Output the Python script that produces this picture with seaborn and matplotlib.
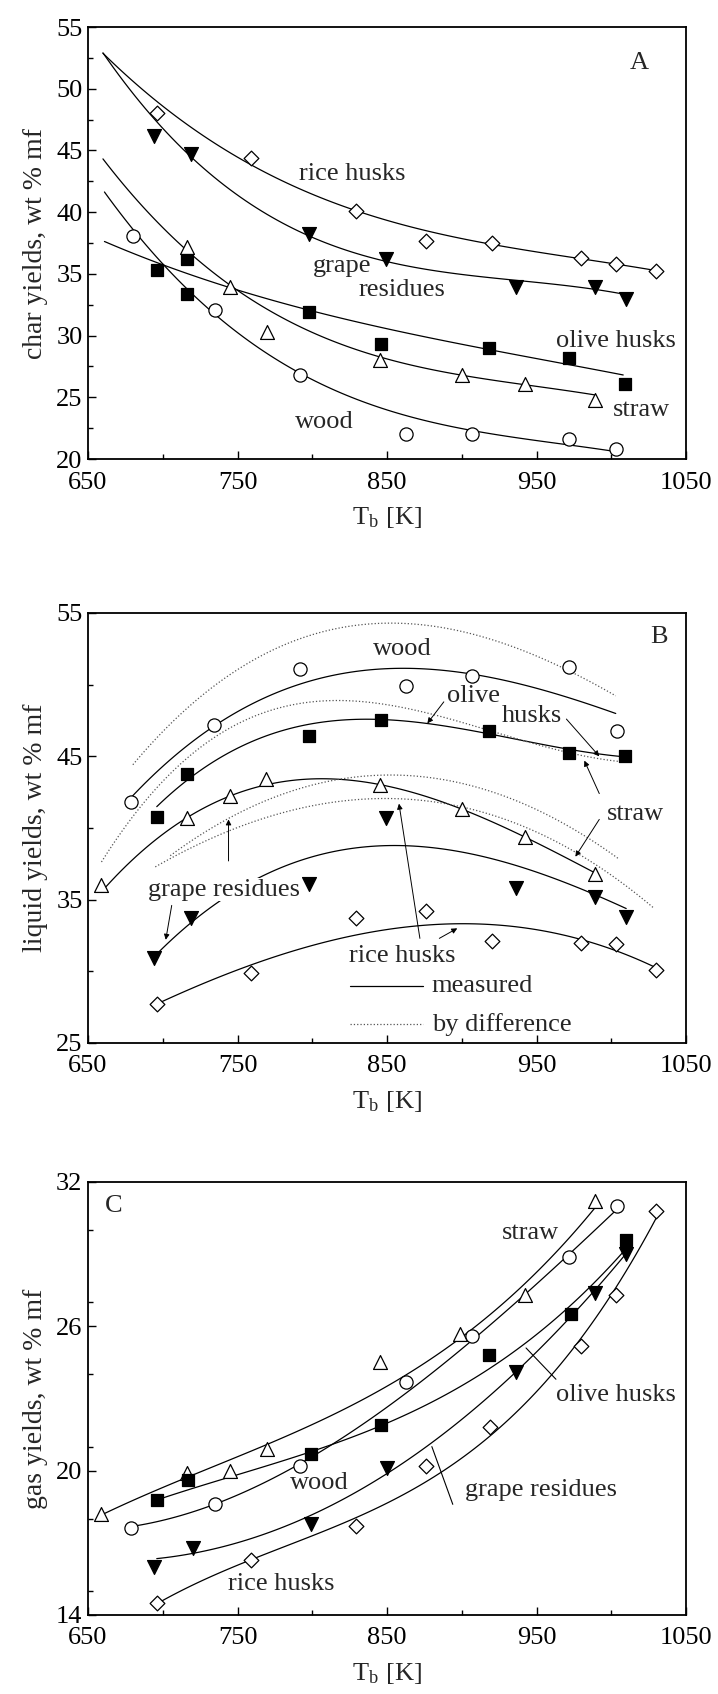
import numpy as np
import matplotlib
matplotlib.use("Agg")
import matplotlib.pyplot as plt
from matplotlib.ticker import MultipleLocator, FixedLocator
import seaborn as sns

# ---------------- DATA ----------------
T_ticks = [650, 750, 850, 950, 1050]
char_ticks = [20, 25, 30, 35, 40, 45, 50, 55]
liq_ticks = [25, 35, 45, 55]
gas_ticks = [14, 20, 26, 32]

# Panel A: char yields (markers)
char_rice_T = [696, 759, 829, 876, 920, 980, 1003, 1030]
char_rice = [48.0, 44.4, 40.1, 37.7, 37.5, 36.3, 35.8, 35.2]
char_grape_T = [694, 719, 798, 849, 936, 989, 1010]
char_grape = [46.2, 44.7, 38.2, 36.2, 33.9, 33.9, 33.0]
char_olive_T = [696, 716, 716, 798, 846, 918, 972, 1009]
char_olive = [35.3, 36.2, 33.4, 31.9, 29.3, 29.0, 28.2, 26.1]
char_straw_T = [716, 745, 770, 845, 900, 942, 989]
char_straw = [37.2, 33.9, 30.3, 28.0, 26.8, 26.1, 24.8]
char_wood_T = [680, 735, 792, 863, 907, 972, 1003]
char_wood = [38.1, 32.1, 26.8, 22.0, 22.0, 21.6, 20.8]
# Panel A: fitted curves
char_rice_fit_T = [660, 696, 759, 829, 876, 920, 980, 1030]
char_rice_fit = [53.3, 48.1, 44.4, 40.2, 38.3, 37.4, 36.2, 35.3]
char_grape_fit_T = [660, 694, 719, 798, 849, 936, 989, 1010]
char_grape_fit = [53.3, 46.8, 44.7, 38.3, 36.1, 34.3, 33.6, 33.5]
char_olive_fit_T = [661, 716, 798, 918, 1008]
char_olive_fit = [37.6, 35.1, 32.0, 28.9, 26.8]
char_straw_fit_T = [660, 716, 745, 845, 900, 942, 989]
char_straw_fit = [44.3, 37.0, 34.0, 28.3, 26.8, 26.0, 25.2]
char_wood_fit_T = [661, 680, 735, 792, 851, 907, 972, 1002]
char_wood_fit = [41.9, 38.2, 31.9, 26.9, 24.0, 22.2, 21.2, 20.6]

# Panel B: liquid yields (markers)
liq_wood_T = [679, 734, 792, 863, 907, 972, 1004]
liq_wood = [41.8, 47.2, 51.1, 49.9, 50.6, 51.2, 46.8]
liq_olive_T = [696, 716, 798, 846, 918, 972, 1009]
liq_olive = [40.8, 43.8, 46.4, 47.5, 46.8, 45.2, 45.0]
liq_straw_T = [659, 716, 745, 769, 845, 900, 942, 989]
liq_straw = [36.0, 40.7, 42.2, 43.4, 43.0, 41.3, 39.4, 36.8]
liq_grape_T = [694, 719, 798, 849, 936, 989, 1010]
liq_grape = [30.9, 33.7, 36.1, 40.7, 35.8, 35.2, 33.8]
liq_rice_T = [696, 759, 829, 876, 920, 980, 1003, 1030]
liq_rice = [27.7, 29.9, 33.7, 34.2, 32.1, 32.0, 31.9, 30.1]
# Panel B: measured curves
liq_wood_fit_T = [678, 735, 795, 851, 907, 961, 1003]
liq_wood_fit = [42.0, 47.3, 49.9, 51.3, 50.7, 49.4, 48.0]
liq_olive_fit_T = [696, 717, 762, 806, 849, 916, 972, 1010]
liq_olive_fit = [41.2, 43.8, 46.2, 47.1, 47.5, 46.9, 45.3, 45.0]
liq_straw_fit_T = [659, 695, 715, 746, 770, 806, 849, 900, 943, 990]
liq_straw_fit = [35.8, 38.7, 40.6, 42.3, 43.3, 43.5, 42.9, 41.3, 39.2, 36.9]
liq_grape_fit_T = [697, 731, 778, 806, 851, 883, 927, 965, 988, 1010]
liq_grape_fit = [31.3, 34.4, 37.1, 38.3, 38.7, 38.6, 37.6, 36.4, 35.5, 34.3]
liq_rice_fit_T = [697, 757, 828, 851, 894, 939, 979, 1003, 1030]
liq_rice_fit = [27.8, 30.3, 32.4, 33.1, 33.4, 33.0, 32.0, 31.7, 30.2]
# Panel B: "by difference" curves
liq_wood_diff_T = [680, 739, 795, 851, 878, 916, 961, 1003]
liq_wood_diff = [44.3, 50.6, 53.1, 54.2, 54.1, 53.3, 51.7, 49.1]
liq_straw_diff_T = [659, 696, 717, 739, 784, 828, 878, 923, 965, 1005]
liq_straw_diff = [37.7, 42.3, 45.2, 47.1, 48.3, 48.7, 48.0, 46.6, 45.7, 44.5]
liq_grape_diff_T = [705, 744, 806, 850, 894, 938, 972, 1005]
liq_grape_diff = [38.0, 40.8, 43.1, 43.7, 43.1, 42.0, 40.1, 37.8]
liq_rice_diff_T = [695, 739, 784, 851, 883, 938, 976, 1028]
liq_rice_diff = [37.1, 40.0, 41.0, 41.9, 41.7, 40.5, 38.3, 34.4]

# Panel C: gas yields (markers)
gas_straw_T = [659, 716, 745, 770, 845, 899, 942, 989]
gas_straw = [18.2, 19.9, 20.0, 20.9, 24.5, 25.7, 27.3, 31.2]
gas_wood_T = [679, 735, 792, 863, 907, 972, 1004]
gas_wood = [17.6, 18.6, 20.2, 23.7, 25.6, 28.9, 31.0]
gas_olive_T = [696, 717, 799, 846, 918, 973, 1010]
gas_olive = [18.8, 19.6, 20.7, 21.9, 24.8, 26.5, 29.6]
gas_grape_T = [694, 720, 799, 850, 936, 989, 1010]
gas_grape = [16.0, 16.8, 17.8, 20.1, 24.1, 27.4, 29.0]
gas_rice_T = [696, 759, 829, 876, 919, 980, 1003, 1030]
gas_rice = [14.5, 16.3, 17.7, 20.2, 21.8, 25.2, 27.3, 30.8]
# Panel C: fitted curves
gas_straw_fit_T = [659, 716, 770, 845, 897, 942, 989]
gas_straw_fit = [18.2, 19.7, 20.9, 23.6, 25.6, 27.3, 31.1]
gas_wood_fit_T = [679, 735, 792, 836, 863, 907, 972, 1004]
gas_wood_fit = [17.7, 18.6, 20.2, 21.95, 23.5, 25.4, 28.8, 31.0]
gas_olive_fit_T = [696, 799, 847, 918, 973, 1010]
gas_olive_fit = [18.8, 20.7, 21.9, 24.5, 26.5, 29.4]
gas_grape_fit_T = [696, 720, 799, 850, 936, 989, 1010]
gas_grape_fit = [16.3, 16.65, 18.0, 20.0, 24.1, 27.4, 29.1]
gas_rice_fit_T = [696, 759, 829, 876, 919, 980, 1003, 1030]
gas_rice_fit = [14.5, 16.3, 17.7, 19.8, 21.8, 25.2, 27.3, 30.8]

# ---------------- STYLE ----------------
sns.set_theme(style="ticks")
plt.rcParams["font.family"] = ["Liberation Serif", "DejaVu Serif"]
plt.rcParams["mathtext.fontset"] = "stix"
plt.rcParams["axes.edgecolor"] = "black"
plt.rcParams["axes.linewidth"] = 1.3

FS = 19
fig = plt.figure(figsize=(7.18, 16.94), dpi=100)
fig.patch.set_facecolor("white")

left, width = 88 / 718, 598 / 718
axA = fig.add_axes([left, 0.72904, width, 0.25502])
axB = fig.add_axes([left, 0.38430, width, 0.25384])
axC = fig.add_axes([left, 0.04664, width, 0.25561])

MK = {"rice": ("D", False, 7.5), "grape": ("v", True, 10),
      "olive": ("s", True, 8.5), "straw": ("^", False, 10),
      "wood": ("o", False, 9.5)}


def markers(ax, T, y, kind):
    m, filled, ms = MK[kind]
    sns.scatterplot(x=T, y=y, ax=ax, marker=m, s=ms ** 2,
                    color="black" if filled else "white",
                    edgecolor="black", linewidth=0.9, zorder=4, legend=False)


def curve(ax, T, y, ls="-", order=3, lw=0.9, color="black"):
    sns.regplot(x=np.asarray(T, float), y=np.asarray(y, float), ax=ax,
                order=order, scatter=False, ci=None, truncate=True,
                color=color, line_kws=dict(lw=lw, ls=ls, zorder=2))


def style(ax, ylim, yticks, ymin, ylabel):
    ax.set_xlim(650, 1050)
    ax.set_ylim(*ylim)
    ax.xaxis.set_major_locator(FixedLocator(T_ticks))
    ax.xaxis.set_minor_locator(MultipleLocator(50))
    ax.yaxis.set_major_locator(FixedLocator(yticks))
    ax.yaxis.set_minor_locator(MultipleLocator(ymin))
    ax.tick_params(which="both", direction="in", top=False, right=False,
                   labelsize=FS, colors="black", width=1.0)
    ax.tick_params(which="major", length=6)
    ax.tick_params(axis="x", which="major", pad=9)
    ax.tick_params(axis="y", which="major", pad=4)
    ax.tick_params(which="minor", length=3.5)
    for s in ax.spines.values():
        s.set_visible(True)
        s.set_color("black")
    ax.set_xlabel(r"T$_\mathregular{b}$ [K]", fontsize=FS, labelpad=8)
    ax.set_ylabel(ylabel, fontsize=FS + 1, labelpad=6)
    ax.set_facecolor("white")


# ---------------- PANEL A ----------------
curve(axA, char_rice_fit_T, char_rice_fit)
curve(axA, char_grape_fit_T, char_grape_fit)
curve(axA, char_olive_fit_T, char_olive_fit)
curve(axA, char_straw_fit_T, char_straw_fit)
curve(axA, char_wood_fit_T, char_wood_fit)
markers(axA, char_rice_T, char_rice, "rice")
markers(axA, char_grape_T, char_grape, "grape")
markers(axA, char_olive_T, char_olive, "olive")
markers(axA, char_straw_T, char_straw, "straw")
markers(axA, char_wood_T, char_wood, "wood")
style(axA, (20, 55), char_ticks, 2.5, "char yields, wt % mf")
tA = dict(fontsize=FS, ha="center", va="center")
axA.text(1019, 52.1, "A", **tA)
axA.text(827, 43.1, "rice husks", **tA)
axA.text(820, 35.6, "grape", **tA)
axA.text(860, 33.7, "residues", **tA)
axA.text(1003, 29.6, "olive husks", **tA)
axA.text(1020, 24.0, "straw", **tA)
axA.text(808, 23.0, "wood", **tA)

# ---------------- PANEL B ----------------
curve(axB, liq_wood_fit_T, liq_wood_fit)
curve(axB, liq_olive_fit_T, liq_olive_fit)
curve(axB, liq_straw_fit_T, liq_straw_fit)
curve(axB, liq_grape_fit_T, liq_grape_fit)
curve(axB, liq_rice_fit_T, liq_rice_fit)
dcol = "#555555"
curve(axB, liq_wood_diff_T, liq_wood_diff, ls=":", color=dcol)
curve(axB, liq_straw_diff_T, liq_straw_diff, ls=":", color=dcol)
curve(axB, liq_grape_diff_T, liq_grape_diff, ls=":", color=dcol)
curve(axB, liq_rice_diff_T, liq_rice_diff, ls=":", color=dcol)
markers(axB, liq_wood_T, liq_wood, "wood")
markers(axB, liq_olive_T, liq_olive, "olive")
markers(axB, liq_straw_T, liq_straw, "straw")
markers(axB, liq_grape_T, liq_grape, "grape")
markers(axB, liq_rice_T, liq_rice, "rice")
style(axB, (25, 55), liq_ticks, 5, "liquid yields, wt % mf")
axB.text(1032, 53.3, "B", **tA)
axB.text(860, 52.5, "wood", **tA)
axB.text(908, 49.2, "olive", **tA)
axB.text(947, 47.8, "husks", **tA)
axB.text(1016, 41.0, "straw", **tA)
axB.text(741, 35.7, "grape residues", fontsize=FS, ha="center", va="center",
         bbox=dict(facecolor="white", edgecolor="none", pad=0.5), zorder=3)
axB.text(860, 31.1, "rice husks", fontsize=FS, ha="center", va="center",
         bbox=dict(facecolor="white", edgecolor="none", pad=0.5), zorder=3)
ap = dict(arrowstyle="-|>", color="black", lw=0.7, mutation_scale=8,
          shrinkA=0, shrinkB=0)
arrows_B = [((888, 48.8), (877, 47.3)), ((970, 47.6), (992, 45.0)),
            ((992, 42.4), (982, 44.7)), ((992, 40.6), (976, 38.0)),
            ((744, 37.7), (744, 40.6)), ((706, 34.6), (702, 32.2)),
            ((872, 32.3), (858, 41.7)), ((885, 32.3), (897, 33.0))]
for start, end in arrows_B:
    axB.annotate("", xy=end, xytext=start, arrowprops=ap, zorder=5)
axB.plot([825, 874], [29.0, 29.0], color="black", lw=0.9)
axB.plot([825, 874], [26.3, 26.3], color=dcol, lw=0.9, ls=":")
axB.text(880, 29.0, "measured", fontsize=FS, ha="left", va="center")
axB.text(880, 26.3, "by difference", fontsize=FS, ha="left", va="center")

# ---------------- PANEL C ----------------
curve(axC, gas_straw_fit_T, gas_straw_fit)
curve(axC, gas_wood_fit_T, gas_wood_fit)
curve(axC, gas_olive_fit_T, gas_olive_fit)
curve(axC, gas_grape_fit_T, gas_grape_fit)
curve(axC, gas_rice_fit_T, gas_rice_fit)
markers(axC, gas_straw_T, gas_straw, "straw")
markers(axC, gas_wood_T, gas_wood, "wood")
markers(axC, gas_olive_T, gas_olive, "olive")
markers(axC, gas_grape_T, gas_grape, "grape")
markers(axC, gas_rice_T, gas_rice, "rice")
style(axC, (14, 32), gas_ticks, 3, "gas yields, wt % mf")
axC.text(667, 31.0, "C", **tA)
axC.text(946, 29.9, "straw", **tA)
axC.text(1003, 23.15, "olive husks", **tA)
axC.text(805, 19.5, "wood", **tA)
axC.text(953, 19.2, "grape residues", **tA)
axC.text(779, 15.3, "rice husks", **tA)
lp = dict(arrowstyle="-", color="black", lw=0.8, shrinkA=0, shrinkB=0)
axC.annotate("", xy=(943, 25.1), xytext=(963, 23.8), arrowprops=lp)
axC.annotate("", xy=(880, 21.0), xytext=(894, 18.6), arrowprops=lp)

fig.savefig("out.png", dpi=100, facecolor="white")
